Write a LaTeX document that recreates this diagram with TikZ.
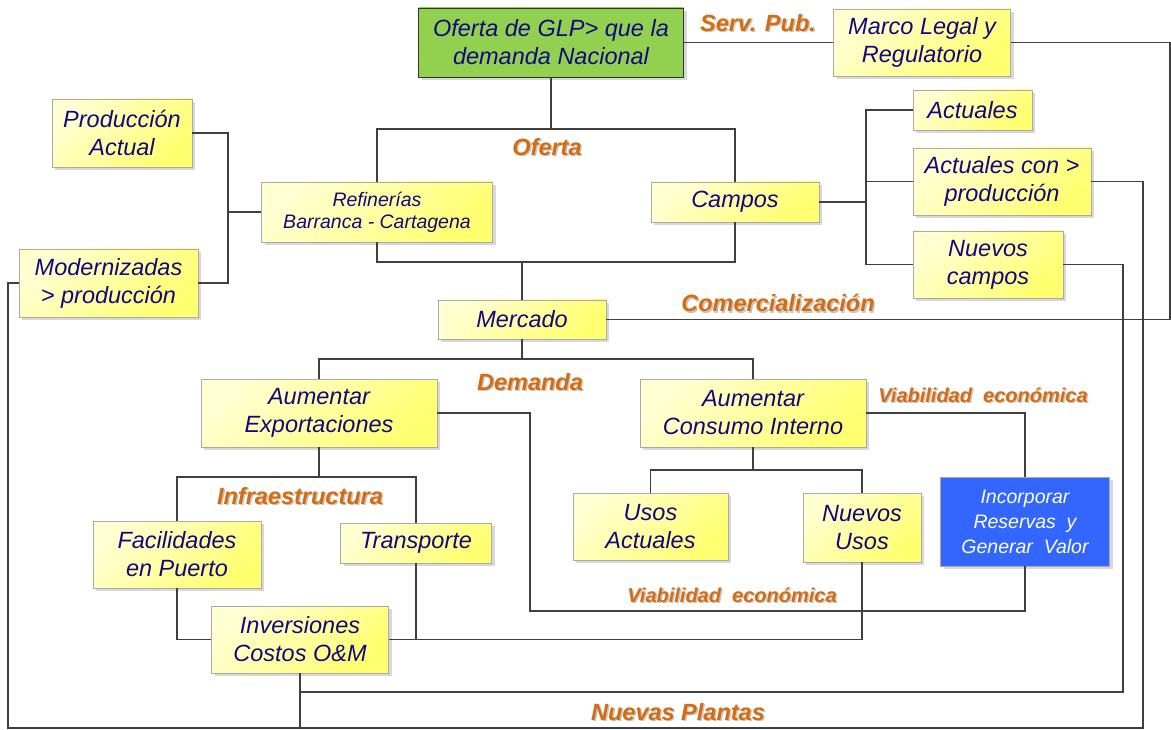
\documentclass[tikz,border=0pt]{standalone}
\usepackage{fontspec}
\setsansfont{Liberation Sans}
\usetikzlibrary{shadows}
\definecolor{glpText}{RGB}{20,8,128}
\definecolor{glpTag}{RGB}{214,108,16}
\definecolor{glpLine}{RGB}{64,64,64}
\definecolor{glpLight}{RGB}{255,255,210}
\definecolor{glpYellow}{RGB}{255,255,112}
\definecolor{glpGreen}{RGB}{146,208,80}
\definecolor{glpBlue}{RGB}{51,102,255}
\definecolor{glpEdge}{RGB}{170,170,170}
\tikzset{
    base/.style={font=\sffamily\itshape\fontsize{23.5}{28}\selectfont, align=center, inner sep=0pt},
    box/.style={base, rectangle, draw=glpEdge, line width=0.8pt, text=glpText,
                top color=glpLight, bottom color=glpYellow, shading angle=45,
                drop shadow={shadow xshift=3pt, shadow yshift=-3pt, opacity=0.3}},
    goal/.style={box, draw=black!80, top color=glpGreen, bottom color=glpGreen},
    target/.style={box, top color=glpBlue, bottom color=glpBlue, text=white},
    fineprint/.style={font=\sffamily\itshape\fontsize{19.5}{22}\selectfont},
    sz/.style 2 args={minimum width=#1pt, minimum height=#2pt},
    link/.style={draw=glpLine, line width=1.2pt},
    trunk/.style={link, line width=2pt},
    tag/.style={font=\sffamily\bfseries\itshape\fontsize{23.5}{28}\selectfont, text=glpTag, inner sep=0pt},
    tagsmall/.style={tag, font=\sffamily\bfseries\itshape\fontsize{20}{24}\selectfont}
}
% orange label with a soft grey shadow
\newcommand{\tagnode}[4][]{%
  \node[tag, #1, text=black!45, opacity=0.5, xshift=1.5pt, yshift=-1.5pt] at (#3) {#4};
  \node[tag, #1] (#2) at (#3) {#4};}

\begin{document}
\begin{tikzpicture}[x=1pt, y=-1pt]
  \path[fill=white] (0,0) rectangle (1171,730);
  \useasboundingbox (0,0) rectangle (1171,730);

  % Oferta
  \node[goal, sz={265}{69}] (oferta) at (551,42.5) {Oferta de GLP> que la\\demanda Nacional};
  \node[box, sz={177}{67}] (marco) at (922,42.5) {Marco Legal y\\Regulatorio};
  \node[box, sz={140}{68}] (prod) at (122,133) {Producción\\Actual};
  \node[box, fineprint, sz={231}{60}] (refin) at (377,212) {Refinerías\\Barranca - Cartagena};
  \node[box, sz={168}{40}] (campos) at (735,202) {Campos};
  \node[box, sz={119}{40}] (actual) at (972.5,110) {Actuales};
  \node[box, sz={178}{67}] (actcon) at (1002,181.5) {Actuales con >\\producción};
  \node[box, sz={150}{67}] (nuevcam) at (988,264.5) {Nuevos\\campos};
  \node[box, sz={179}{68}] (modern) at (108.5,283) {Modernizadas\\> producción};
  \node[box, sz={168}{39}] (mercado) at (522,319.5) {Mercado};

  % Demanda
  \node[box, sz={236}{68}] (export) at (319,413) {Aumentar\\Exportaciones};
  \node[box, sz={226}{68}] (consumo) at (753,413) {Aumentar\\Consumo Interno};
  \node[box, sz={168}{67}] (facil) at (177,554.5) {Facilidades\\en Puerto};
  \node[box, sz={151}{40}] (transp) at (416,543) {Transporte};
  \node[box, sz={155}{67}] (usosact) at (650.5,526.5) {Usos\\Actuales};
  \node[box, sz={118}{69}] (nuevusos) at (862,527.5) {Nuevos\\Usos};
  \node[target, font=\sffamily\itshape\fontsize{19.5}{25}\selectfont, sz={169}{89}] (incorp) at (1025,521.5)
    {Incorporar\\Reservas\ \ y\\Generar\ \ Valor};
  \node[box, sz={177}{67}] (invers) at (300,639.5) {Inversiones\\Costos O\&M};

  % Labels
  \tagnode{lServ}{758,23}{Serv. Pub.}
  \tagnode{lOferta}{547,147}{Oferta}
  \tagnode{lComer}{778,303}{Comercialización}
  \tagnode{lDemanda}{530,382}{Demanda}
  \tagnode[tagsmall]{lViabA}{983,395}{Viabilidad\ \ económica}
  \tagnode{lInfra}{300,496}{Infraestructura}
  \tagnode[tagsmall]{lViabB}{732,595}{Viabilidad\ \ económica}
  \tagnode{lPlantas}{678,712}{Nuevas Plantas}

  % Connectors
  \coordinate (ofTop) at (551,129);
  \coordinate (ofBot) at (522,262);
  \coordinate (refL) at (228,212);
  \coordinate (camBar) at (866,202);
  \coordinate (comR) at (1170,319.5);
  \coordinate (demTop) at (522,359);
  \coordinate (infTop) at (319,477);
  \coordinate (conBr) at (753,470);
  \coordinate (viaB) at (530,611);
  \coordinate (plantR) at (1123,692);
  \coordinate (btmL) at (8,728);
  \coordinate (btmR) at (1143,728);

  \draw[trunk] (oferta) -- (ofTop);
  \draw[link] (refin) |- (ofTop) -| (campos);
  \draw[link] (refin) |- (ofBot) -| (campos);
  \draw[link] (ofBot) -- (mercado);
  \draw[link] (oferta) -- (marco);
  \draw[link] (marco) -| (comR) -- (mercado);
  \draw[link] (prod) -| (refL) |- (modern);
  \draw[trunk] (refL) -- (refin);
  \draw[trunk] (campos) -- (camBar);
  \draw[link] (actual) -| (camBar);
  \draw[link] (actcon) -| (camBar);
  \draw[link] (nuevcam) -| (camBar);
  \draw[link] (modern) -| (btmL) -- (btmR) |- (actcon);
  \draw[link] (nuevcam) -| (plantR) -- (plantR -| invers);
  \draw[trunk] (invers) -- (invers |- btmL);

  \draw[trunk] (mercado) -- (demTop);
  \draw[link] (export) |- (demTop) -| (consumo);
  \draw[link] (export) -| (viaB) -| (incorp);
  \draw[link] (consumo) -| (incorp);
  \draw[trunk] (consumo) -- (conBr);
  \draw[link] (usosact) |- (conBr) -| (nuevusos);
  \draw[link] (nuevusos) |- (invers);
  \draw[link] (transp) -- (transp |- invers);
  \draw[trunk] (export) -- (infTop);
  \draw[link] (facil) |- (infTop) -| (transp);
  \draw[link] (facil) |- (invers);
\end{tikzpicture}
\end{document}
